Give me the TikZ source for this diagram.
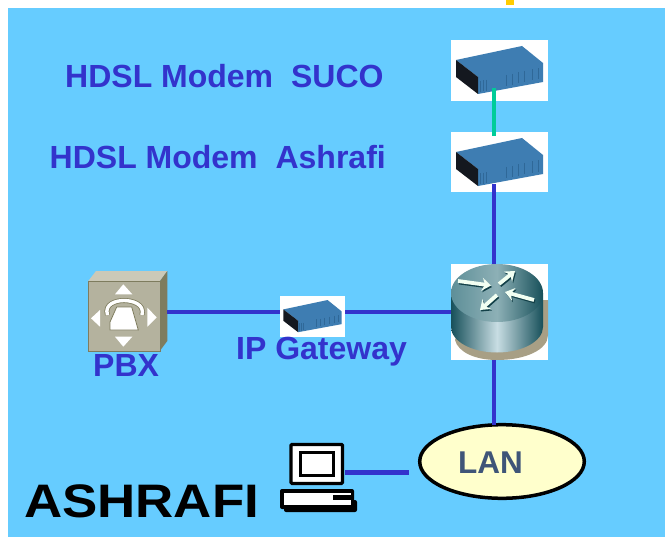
\documentclass[tikz,border=0pt]{standalone}
\usepackage{fontspec}
\setmainfont{Liberation Sans}
\newfontfamily\widefont[FakeStretch=1.125]{Liberation Sans}
\usetikzlibrary{shapes.geometric,arrows.meta}
\definecolor{bgblue}{HTML}{66CCFF}
\definecolor{linkblue}{HTML}{3333CC}
\definecolor{linkgreen}{HTML}{00CC99}
\definecolor{lanfill}{HTML}{FFFFCC}
\definecolor{lantext}{HTML}{3F5578}
\definecolor{markyellow}{HTML}{FFCC00}
\definecolor{modemtop}{HTML}{3E7DB2}
\definecolor{modemrib}{HTML}{2F6898}
\definecolor{modemdark}{HTML}{14181F}
\definecolor{pbxfront}{HTML}{B4B29E}
\definecolor{pbxtop}{HTML}{CBC9B8}
\definecolor{pbxside}{HTML}{7E7C5E}
\definecolor{routerdark}{HTML}{17505A}
\definecolor{routermid}{HTML}{8DB0B6}
\definecolor{routerleft}{HTML}{5E8F98}
\definecolor{routerlight}{HTML}{C8DDE3}
\definecolor{routershadow}{HTML}{A89F85}
\tikzset{
  x=1pt,y=-1pt,
  link/.style={line width=4.5pt,draw=linkblue},
  greenlink/.style={line width=4.5pt,draw=linkgreen},
  bluelabel/.style={font=\fontsize{32}{34}\selectfont\bfseries,text=linkblue,inner sep=0pt,anchor=base west},
  whitebox/.style={fill=white,draw=none,inner sep=0pt,anchor=north west},
  routerarrow/.style={line width=3.8pt,draw=#1,-{Stealth[length=9pt,width=13pt]}}
}
\newcommand{\modemicon}[3]{%
  \begin{scope}[shift={(#1,#2)},x=#3pt,y=-#3pt]
    \fill[modemtop] (5,20) -- (71,6) -- (92,23) -- (92,42) -- (27,54) -- (27,37) -- cycle;
    \fill[modemdark] (5,20) -- (27,37) -- (27,54) -- (5,37) -- cycle;
    \foreach \xx/\yy in {29/41,32/40.5,35/40,55/35,61/34,67/32.5,73/31,81/29.5,87/28.5}
      \draw[modemrib,line width=0.8pt] (\xx,\yy) -- (\xx,\yy+11);
  \end{scope}}
\newcommand{\routerarrows}[3]{%
  \begin{scope}[shift={(#1,#2)}]
    \draw[routerarrow=#3] (458,281) -- (491,285.5);
    \draw[routerarrow=#3] (534,300) -- (505,292);
    \draw[routerarrow=#3] (499,284) -- (515,271);
    \draw[routerarrow=#3] (497,295) -- (480,310);
  \end{scope}}
\begin{document}
\begin{tikzpicture}
\useasboundingbox (0,0) rectangle (671,540);
\fill[white] (0,0) rectangle (671,540);
\fill[bgblue] (8,8) rectangle (665,537);
\fill[markyellow] (506,0) rectangle (514,5);

% device backgrounds
\node[whitebox,minimum width=97pt,minimum height=61pt] (suco) at (451,40) {};
\node[whitebox,minimum width=97pt,minimum height=60pt] (ashrafi) at (451,132) {};
\node[whitebox,minimum width=65pt,minimum height=41pt] (gw) at (280,296) {};
\node[whitebox,minimum width=97pt,minimum height=96pt] (router) at (451,264) {};
\modemicon{451}{40}{1}
\modemicon{451}{132}{1}
\modemicon{280}{296}{0.67}

% router
\fill[routershadow] (470,300) -- (548,300) -- (548,335) .. controls (548,350) and (525,360) .. (497,360) .. controls (475,360) and (458,352) .. (455,340) -- cycle;
\shade[left color=routerdark,right color=routerdark,middle color=routerlight]
  (451,293) -- (451,327) arc[start angle=180,end angle=360,x radius=46pt,y radius=25.5pt] -- (543,293) -- cycle;
\shade[left color=routerleft,right color=routerdark,middle color=routermid]
  (497,293) ellipse[x radius=46pt,y radius=29pt];
\routerarrows{1}{1.5}{routerdark!80!black}
\routerarrows{0}{0}{white!95!green}

% PBX
\fill[pbxtop] (88.3,281) -- (96,271) -- (167.3,271) -- (160,281) -- cycle;
\fill[pbxside] (160,281) -- (167.3,271) -- (167.3,341) -- (160,350.7) -- cycle;
\node[draw=pbxside,line width=0.6pt,fill=pbxfront,inner sep=0pt,anchor=north west,minimum width=71.7pt,minimum height=69.7pt] (pbx) at (88.3,281) {};
\fill[white] (115,294.3) -- (123.3,284.3) -- (132.3,294.3) -- cycle;
\fill[white] (115,336.7) -- (132.3,336.7) -- (123.3,346.7) -- cycle;
\fill[white] (100,310) -- (91,318.3) -- (100,326.7) -- cycle;
\fill[white] (147.3,307.7) -- (156.7,317.3) -- (147.3,326.7) -- cycle;
\draw[pbxside,line width=5pt] (107.5,315) .. controls (104,304) and (116,300.5) .. (124,300.5) .. controls (132,300.5) and (145,304) .. (142,315);
\draw[white,line width=3.4pt] (107.5,315) .. controls (104,304) and (116,300.5) .. (124,300.5) .. controls (132,300.5) and (145,304) .. (142,315);
\fill[white,draw=pbxside,line width=0.8pt] (116.7,307) -- (131.7,307) -- (138.3,330) -- (110,330) -- (110,322) -- cycle;

% PC
\draw[black,line width=3.3pt,fill=white,rounded corners=1pt] (291,444.4) rectangle (342.4,483.4);
\draw[black,line width=3.3pt,fill=white] (300.4,452.4) rectangle (333.4,475.4);
\fill[black,rounded corners=2pt] (284,500) rectangle (357,512);
\fill[black,rounded corners=2pt] (280,489) rectangle (354,509);
\fill[white] (284,492.7) rectangle (351,505);
\fill[black] (333,495) rectangle (354,499.5);

% LAN
\node[draw=black,line width=3.5pt,fill=lanfill,ellipse,minimum width=164.6pt,minimum height=73.6pt,inner sep=0pt] (lan) at (502,461.5) {};

% connectors
\coordinate (sucoport) at (494,88);
\coordinate (ashrafitop) at (494,136.5);
\coordinate (ashrafiport) at (494,184);
\coordinate (routertop) at (494,264);
\coordinate (routerbottom) at (494,360);
\coordinate (lantop) at (494,425);
\coordinate (pcport) at (345,472.5);
\coordinate (lanport) at (408.5,472.5);
\coordinate (pbxport) at (167.3,312);
\draw[greenlink] (sucoport) -- (ashrafitop);
\draw[link] (ashrafiport) -- (routertop);
\draw[link] (routerbottom) -- (lantop);
\draw[link] (pbxport) -- (gw.west |- pbxport);
\draw[link] (gw.east |- pbxport) -- (router.west |- pbxport);
\draw[link] (pcport) -- (lanport);

% labels
\node[bluelabel] (l1) at (65,88) {HDSL Modem\hspace{0.56em}SUCO};
\node[bluelabel] (l2) at (49.5,168) {HDSL Modem\hspace{0.56em}Ashrafi};
\node[bluelabel] (l3) at (236,359) {IP Gateway};
\node[bluelabel] (l4) at (93,376) {PBX};
\node[inner sep=0pt,anchor=base west,font=\fontsize{31.5}{34}\selectfont\bfseries,text=lantext] (l5) at (458,473) {LAN};
\node[inner sep=0pt,anchor=base west,font=\widefont\fontsize{47}{50}\selectfont\bfseries,text=black] (l6) at (24,517) {ASHRAFI};
\end{tikzpicture}
\end{document}
